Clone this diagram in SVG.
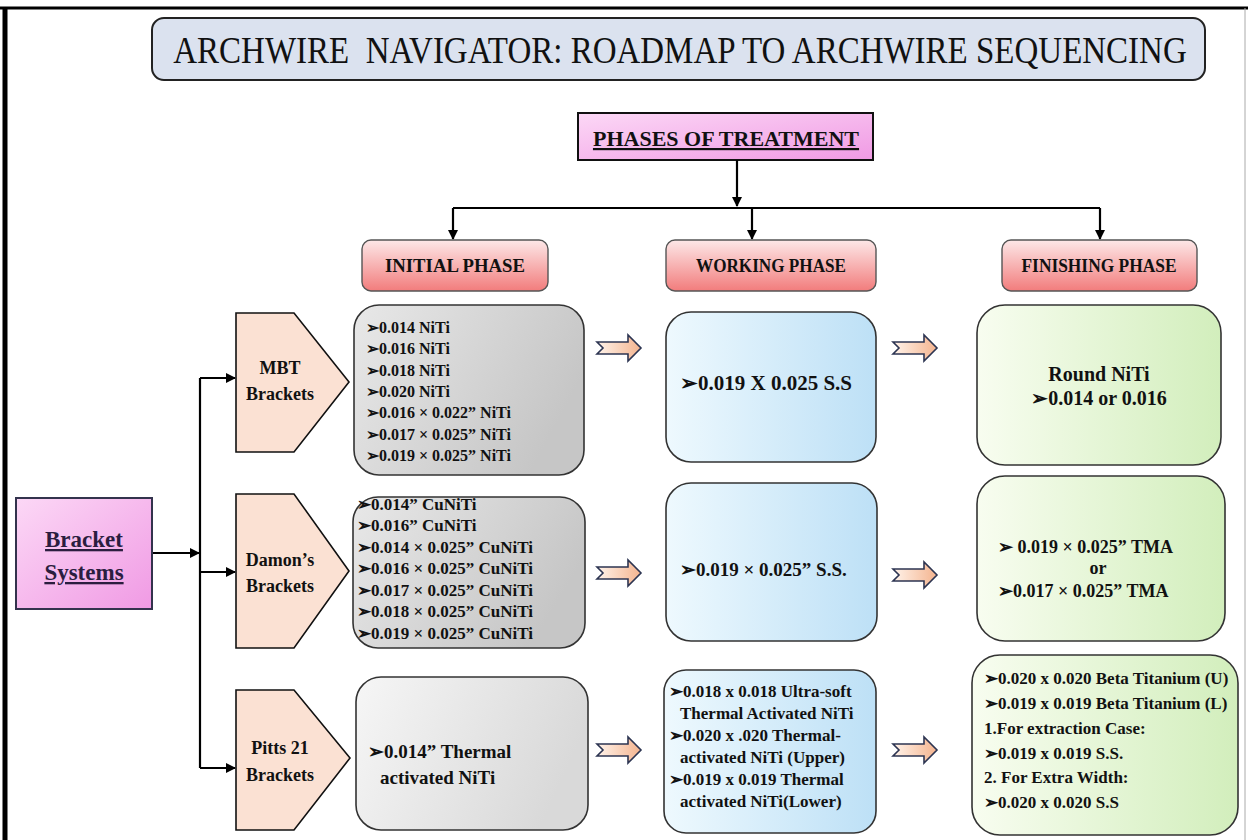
<svg xmlns="http://www.w3.org/2000/svg" width="1248" height="840" viewBox="0 0 1248 840">
<style>
text{font-family:"Liberation Serif","Times New Roman",serif;fill:#111;font-weight:bold}
.t16{font-size:16px}.t17{font-size:17px}.t18{font-size:18px}.t19{font-size:19px}.t20{font-size:20px}.t21{font-size:21px}
.ph{font-size:18px;text-anchor:middle}
.pent{fill:#fbe1d3;stroke:#111;stroke-width:1.6}
.box{stroke:#333;stroke-width:1.6}
.con{fill:none;stroke:#000;stroke-width:2.2}
.ar{marker-end:url(#ah)}
.mid{text-anchor:middle}
</style>
<defs>
<marker id="ah" viewBox="0 0 10 10" refX="9" refY="5" markerWidth="10" markerHeight="10" markerUnits="userSpaceOnUse" orient="auto"><path d="M0,0 L10,5 L0,10 Z" fill="#000"/></marker>
<linearGradient id="gPink" x1="0" y1="0" x2="1" y2="1"><stop offset="0" stop-color="#fcd8f6"/><stop offset="1" stop-color="#f09ae4"/></linearGradient>
<linearGradient id="gPhase" x1="0" y1="0" x2="0" y2="1"><stop offset="0" stop-color="#fde8e8"/><stop offset="1" stop-color="#f27c7c"/></linearGradient>
<linearGradient id="gGray" x1="0" y1="0" x2="1" y2="0.4"><stop offset="0" stop-color="#e8e8e8"/><stop offset="1" stop-color="#c6c6c6"/></linearGradient>
<linearGradient id="gGray3" x1="0" y1="0" x2="1" y2="0.3"><stop offset="0" stop-color="#f6f6f6"/><stop offset="1" stop-color="#d9d9d9"/></linearGradient>
<linearGradient id="gBlue" x1="0" y1="0" x2="1" y2="0"><stop offset="0" stop-color="#eef9fe"/><stop offset="1" stop-color="#bde0f6"/></linearGradient>
<linearGradient id="gGreen" x1="0" y1="0" x2="1" y2="0"><stop offset="0" stop-color="#f8fdf0"/><stop offset="1" stop-color="#d2eebc"/></linearGradient>
<linearGradient id="gArrow" x1="0" y1="0" x2="1" y2="0"><stop offset="0" stop-color="#fff3ea"/><stop offset="1" stop-color="#f4b48f"/></linearGradient>
<path id="blk" d="M0,-6 L31,-6 L31,-13 L44,0 L31,13 L31,6 L0,6 L6,0 Z" fill="url(#gArrow)" stroke="#2d3552" stroke-width="1.6"/>
</defs>
<rect width="1248" height="840" fill="#fff"/>
<g id="frame">
<line x1="0" y1="8" x2="1248" y2="8" stroke="#000" stroke-width="3"/>
<line x1="5" y1="7" x2="5" y2="840" stroke="#000" stroke-width="5"/>
<line x1="1245" y1="8" x2="1245" y2="840" stroke="#aaa" stroke-width="1"/>
</g>
<g id="title">
<rect x="152" y="18" width="1053" height="62" rx="12" fill="#dbe2ef" stroke="#222" stroke-width="2"/>
<text transform="translate(680,63) scale(1,1.15)" x="0" y="0" text-anchor="middle" style="font-weight:normal;font-size:33px;white-space:pre">ARCHWIRE  NAVIGATOR: ROADMAP TO ARCHWIRE SEQUENCING</text>
</g>
<g id="phases">
<rect x="578" y="113" width="295" height="47" fill="url(#gPink)" stroke="#111" stroke-width="2"/>
<text x="726" y="146" class="mid" style="font-size:22px;text-decoration:underline">PHASES OF TREATMENT</text>
</g>
<g id="connectors">
<path class="con ar" d="M737,160 V206"/>
<path class="con" d="M453,208 H1100"/>
<path class="con ar" d="M453,208 V239"/>
<path class="con ar" d="M752,208 V239"/>
<path class="con ar" d="M1100,208 V239"/>
<path class="con ar" d="M152,553 H199"/>
<path class="con" d="M200,378 V768"/>
<path class="con ar" d="M200,378 H235"/>
<path class="con ar" d="M200,572 H235"/>
<path class="con ar" d="M200,768 H235"/>
<use href="#blk" x="597" y="348"/>
<use href="#blk" x="597" y="573"/>
<use href="#blk" x="597" y="750"/>
<use href="#blk" x="893" y="348"/>
<use href="#blk" x="893" y="575"/>
<use href="#blk" x="893" y="750"/>
</g>
<g id="initial-phase">
<rect x="362" y="240" width="186" height="51" rx="9" fill="url(#gPhase)" stroke="#555" stroke-width="1.4"/>
<text x="455" y="272" class="ph" textLength="140" lengthAdjust="spacingAndGlyphs">INITIAL PHASE</text>
</g>
<g id="working-phase">
<rect x="666" y="240" width="210" height="51" rx="9" fill="url(#gPhase)" stroke="#555" stroke-width="1.4"/>
<text x="771" y="272" class="ph" textLength="150" lengthAdjust="spacingAndGlyphs">WORKING PHASE</text>
</g>
<g id="finishing-phase">
<rect x="1002" y="240" width="195" height="51" rx="9" fill="url(#gPhase)" stroke="#555" stroke-width="1.4"/>
<text x="1099" y="272" class="ph" textLength="155" lengthAdjust="spacingAndGlyphs">FINISHING PHASE</text>
</g>
<g id="bracket-systems">
<rect x="16" y="498" width="136" height="111" fill="url(#gPink)" stroke="#33334d" stroke-width="2"/>
<text x="84" y="547" class="mid" style="font-size:23px;fill:#2b1d3f;text-decoration:underline">Bracket</text>
<text x="84" y="580" class="mid" style="font-size:23px;fill:#2b1d3f;text-decoration:underline">Systems</text>
</g>
<g id="mbt">
<path class="pent" d="M236,313 H294 L349,382 L294,452 H236 Z"/>
<text x="280" y="374" class="mid t18">MBT</text>
<text x="280" y="400" class="mid t18">Brackets</text>
</g>
<g id="damon">
<path class="pent" d="M236,494 H294 L349,571 L294,648 H236 Z"/>
<text x="280" y="566" class="mid t18">Damon’s</text>
<text x="280" y="592" class="mid t18">Brackets</text>
</g>
<g id="pitts">
<path class="pent" d="M236,690 H294 L350,758 L294,830 H236 Z"/>
<text x="280" y="754" class="mid t18">Pitts 21</text>
<text x="280" y="781" class="mid t18">Brackets</text>
</g>
<g id="mbt-initial">
<rect class="box" x="354" y="305" width="230" height="170" rx="25" fill="url(#gGray)"/>
<text class="t16" x="366" y="333">➢0.014 NiTi</text>
<text class="t16" x="366" y="354">➢0.016 NiTi</text>
<text class="t16" x="366" y="376">➢0.018 NiTi</text>
<text class="t16" x="366" y="397">➢0.020 NiTi</text>
<text class="t16" x="366" y="418">➢0.016 × 0.022” NiTi</text>
<text class="t16" x="366" y="440">➢0.017 × 0.025” NiTi</text>
<text class="t16" x="366" y="461">➢0.019 × 0.025” NiTi</text>
</g>
<g id="damon-initial">
<rect class="box" x="353" y="497" width="232" height="151" rx="25" fill="url(#gGray)"/>
<text class="t17" x="357" y="510">➢0.014” CuNiTi</text>
<text class="t17" x="357" y="531">➢0.016” CuNiTi</text>
<text class="t17" x="357" y="553">➢0.014 × 0.025” CuNiTi</text>
<text class="t17" x="357" y="574">➢0.016 × 0.025” CuNiTi</text>
<text class="t17" x="357" y="596">➢0.017 × 0.025” CuNiTi</text>
<text class="t17" x="357" y="617">➢0.018 × 0.025” CuNiTi</text>
<text class="t17" x="357" y="639">➢0.019 × 0.025” CuNiTi</text>
</g>
<g id="pitts-initial">
<rect class="box" x="356" y="677" width="232" height="153" rx="25" fill="url(#gGray3)"/>
<text class="t19" x="368" y="758">➢0.014” Thermal</text>
<text class="t19" x="380" y="784">activated NiTi</text>
</g>
<g id="mbt-working">
<rect class="box" x="666" y="312" width="210" height="150" rx="25" fill="url(#gBlue)"/>
<text class="t21" x="680" y="390">➢0.019 X 0.025 S.S</text>
</g>
<g id="damon-working">
<rect class="box" x="666" y="483" width="211" height="158" rx="25" fill="url(#gBlue)"/>
<text class="t19" x="680" y="576">➢0.019 × 0.025” S.S.</text>
</g>
<g id="pitts-working">
<rect class="box" x="664" y="670" width="212" height="163" rx="22" fill="url(#gBlue)"/>
<text class="t17" x="669" y="697">➢0.018 x 0.018 Ultra-soft</text>
<text class="t17" x="680" y="719">Thermal Activated NiTi</text>
<text class="t17" x="669" y="741">➢0.020 x .020 Thermal-</text>
<text class="t17" x="680" y="763">activated NiTi (Upper)</text>
<text class="t17" x="669" y="785">➢0.019 x 0.019 Thermal</text>
<text class="t17" x="680" y="807">activated NiTi(Lower)</text>
</g>
<g id="mbt-finishing">
<rect class="box" x="977" y="305" width="244" height="160" rx="28" fill="url(#gGreen)"/>
<text class="t20 mid" x="1099" y="381">Round NiTi</text>
<text class="t20 mid" x="1099" y="405">➢0.014 or 0.016</text>
</g>
<g id="damon-finishing">
<rect class="box" x="977" y="476" width="248" height="165" rx="28" fill="url(#gGreen)"/>
<text class="t18" x="998" y="553">➢ 0.019 × 0.025” TMA</text>
<text class="t18 mid" x="1098" y="574">or</text>
<text class="t18" x="998" y="597">➢0.017 × 0.025” TMA</text>
</g>
<g id="pitts-finishing">
<rect class="box" x="972" y="655" width="266" height="180" rx="28" fill="url(#gGreen)"/>
<text class="t17" x="984" y="684">➢0.020 x 0.020 Beta Titanium (U)</text>
<text class="t17" x="984" y="709">➢0.019 x 0.019 Beta Titanium (L)</text>
<text class="t17" x="984" y="734">1.For extraction Case:</text>
<text class="t17" x="984" y="759">➢0.019 x 0.019 S.S.</text>
<text class="t17" x="984" y="783">2. For Extra Width:</text>
<text class="t17" x="984" y="808">➢0.020 x 0.020 S.S</text>
</g>
</svg>
